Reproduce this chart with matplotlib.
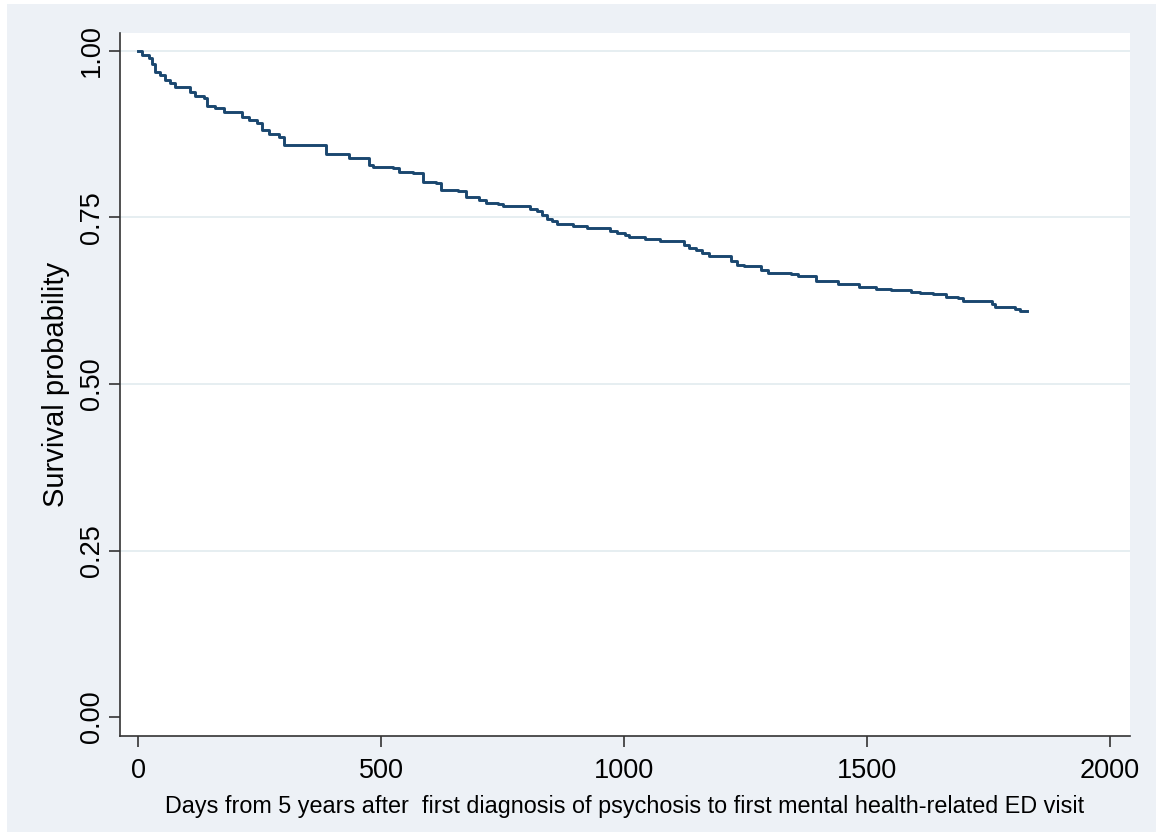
import matplotlib.pyplot as plt
from matplotlib.patches import Rectangle

# Kaplan-Meier estimate
days = [0, 7, 21, 28, 34, 45, 55, 65, 76, 107, 117, 134, 141, 158, 176, 213,
        227, 244, 255, 269, 289, 300, 386, 434, 475, 482, 523, 537, 565, 585,
        613, 623, 658, 675, 702, 716, 740, 751, 806, 820, 830, 840, 851, 861,
        895, 923, 971, 985, 1002, 1009, 1043, 1074, 1123, 1133, 1147, 1160,
        1174, 1219, 1233, 1246, 1281, 1295, 1343, 1357, 1395, 1439, 1484, 1519,
        1550, 1591, 1608, 1636, 1663, 1687, 1698, 1729, 1756, 1763, 1804, 1815,
        1830]
survival = [1.000, 0.994, 0.989, 0.981, 0.969, 0.964, 0.957, 0.952, 0.946,
            0.939, 0.933, 0.929, 0.917, 0.915, 0.909, 0.901, 0.896, 0.892,
            0.881, 0.875, 0.871, 0.859, 0.846, 0.840, 0.829, 0.826, 0.824,
            0.819, 0.817, 0.804, 0.802, 0.792, 0.790, 0.781, 0.777, 0.772,
            0.771, 0.767, 0.762, 0.759, 0.753, 0.748, 0.745, 0.740, 0.737,
            0.734, 0.729, 0.726, 0.724, 0.720, 0.717, 0.715, 0.709, 0.704,
            0.701, 0.697, 0.692, 0.684, 0.679, 0.677, 0.671, 0.667, 0.665,
            0.662, 0.654, 0.650, 0.646, 0.643, 0.641, 0.638, 0.636, 0.635,
            0.631, 0.629, 0.625, 0.624, 0.620, 0.616, 0.612, 0.610, 0.610]

xticks = [0, 500, 1000, 1500, 2000]
yticks = [0.00, 0.25, 0.50, 0.75, 1.00]
ygrid = [0.25, 0.50, 0.75, 1.00]

plt.rcParams['font.family'] = ['Liberation Sans', 'DejaVu Sans']

BG = '#edf1f6'
AXC = '#333333'


def main():
    fig = plt.figure(figsize=(11.56, 8.35), dpi=100, facecolor='white')
    # stata-ish graph region, kept behind the axes
    region = Rectangle((7 / 1156, 3 / 835), 1 - 7 / 1156, 1 - 7 / 835,
                       transform=fig.transFigure, facecolor=BG,
                       edgecolor='none', zorder=-10)
    fig.add_artist(region)

    ax = fig.add_axes([120 / 1156, 1 - 736 / 835, 1010 / 1156, 703 / 835])
    ax.set_facecolor('white')

    for g in ygrid:
        ax.axhline(g, color='#e4edf0', lw=1.3, zorder=1)

    ax.step(days, survival, where='post', color='#1a476f', lw=2.1, zorder=3)

    ax.set_xlim(-38, 2041)
    ax.set_ylim(-0.0285, 1.027)
    ax.set_xticks(xticks)
    ax.set_xticklabels([str(t) for t in xticks])
    ax.set_yticks(yticks)
    ax.set_yticklabels(['%.2f' % t for t in yticks], rotation=90, va='center')

    for s in ['top', 'right']:
        ax.spines[s].set_visible(False)
    for s in ['left', 'bottom']:
        ax.spines[s].set_color(AXC)
        ax.spines[s].set_linewidth(1.2)

    ax.tick_params(axis='both', colors=AXC, length=8, width=1.2,
                   labelsize=19.5, labelcolor='black')
    ax.tick_params(axis='y', pad=3)
    ax.tick_params(axis='x', pad=8)

    ax.set_ylabel('Survival probability', fontsize=21, labelpad=6)
    ax.set_xlabel('Days from 5 years after  first diagnosis of psychosis to first '
                  'mental health-related ED visit', fontsize=16.8, labelpad=8)

    plt.savefig('out.png', dpi=100, facecolor=fig.get_facecolor())


if __name__ == '__main__':
    main()
